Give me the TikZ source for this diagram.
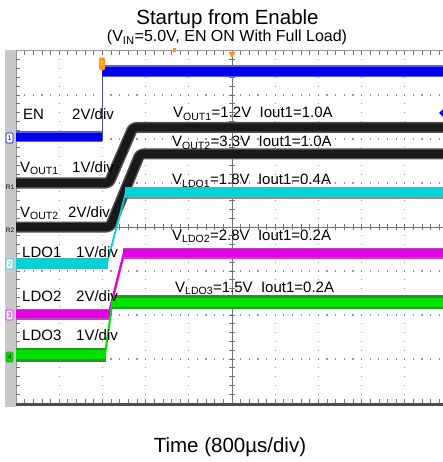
\documentclass[tikz,border=0pt]{standalone}
\usepackage{fontspec}
\setmainfont{Liberation Sans}
\usetikzlibrary{shapes.geometric}
\definecolor{enblue}{RGB}{0,0,235}
\definecolor{enfringe}{RGB}{90,90,240}
\definecolor{blk}{RGB}{25,25,25}
\definecolor{blkfringe}{RGB}{80,80,80}
\definecolor{cyanc}{RGB}{0,212,218}
\definecolor{cyanfringe}{RGB}{60,185,190}
\definecolor{magc}{RGB}{228,0,228}
\definecolor{magfringe}{RGB}{190,70,190}
\definecolor{grnc}{RGB}{0,225,0}
\definecolor{grnfringe}{RGB}{40,150,40}
\definecolor{griddot}{RGB}{150,150,150}
\definecolor{axisc}{RGB}{115,115,115}
\definecolor{barc}{RGB}{200,200,200}
\definecolor{orangec}{RGB}{255,150,20}
\newcommand{\mysub}[1]{\textsubscript{#1}}
\begin{document}
\begin{tikzpicture}[x=1pt,y=-1pt,
  lbl/.style={anchor=base west,inner sep=0pt,font=\fontsize{15}{18}\selectfont},
  ttl/.style={anchor=base,inner sep=0pt,font=\fontsize{20.5}{24}\selectfont},
  subttl/.style={anchor=base,inner sep=0pt,font=\fontsize{16}{19}\selectfont},
  gdotv/.style={griddot,line width=1.2pt,dash pattern=on 1.2pt off 7.6pt,dash phase=0.6pt},
  gdoth/.style={griddot,line width=1.2pt,dash pattern=on 1.2pt off 7.44pt,dash phase=0.6pt},
  axisline/.style={axisc,line width=0.9pt},
  tick/.style={axisc,line width=0.7pt},
  band/.style={line width=#1,line join=round,line cap=butt},
  chmark/.style={inner sep=0.6pt,rounded corners=1pt,line width=0.6pt,font=\fontsize{7}{7}\selectfont,minimum width=7pt,minimum height=10pt}
]
\useasboundingbox (0,0) rectangle (443,462);
\fill[white] (0,0) rectangle (443,462);
% left grey bar
\fill[barc] (5,50) rectangle (16,407);
\begin{scope}
\clip (16,50) rectangle (443,406);
% dotted grid
\foreach \gx in {59.2,102.4,145.6,188.8,275.2,318.4,361.6,404.8}
  \draw[gdotv] (\gx,51) -- (\gx,403);
\foreach \gy in {95,139,183,271,315,359}
  \draw[gdoth] (16,\gy) -- (443,\gy);
% centre axes with ticks
\draw[axisline] (232,51) -- (232,403);
\foreach \k in {1,...,39}
  \draw[tick] (229,{51+8.8*\k}) -- (235,{51+8.8*\k});
\draw[axisline] (16,227) -- (443,227);
\foreach \k in {1,...,50}
  \draw[tick] ({16+8.64*\k},224) -- ({16+8.64*\k},230);
% borders
\draw[griddot,line width=1pt] (16,51) -- (443,51);
\foreach \k in {1,...,50}
  \draw[tick] ({16+8.64*\k},51) -- ({16+8.64*\k},55);
\draw[griddot,line width=1pt] (16,51) -- (16,404);
\foreach \k in {1,...,39}
  \draw[tick] (16,{51+8.8*\k}) -- (20,{51+8.8*\k});
\foreach \k in {1,...,50}
  \draw[tick] ({16+8.64*\k},399) -- ({16+8.64*\k},403);
\draw[black!70,line width=2.4pt] (16,404.5) -- (443,404.5);
% thin line under LDO1
\draw[black!45,line width=0.7pt] (124,198) -- (443,198);
% EN trace
\draw[enfringe,band=11pt] (16,137) -- (102,137);
\draw[enblue,band=8pt] (16,137) -- (102,137);
\draw[blue!40!gray,line width=0.8pt] (102,141) -- (102,67);
\draw[enfringe,band=12pt] (102,71.5) -- (443,71.5);
\draw[enblue,band=9pt] (102,71.5) -- (443,71.5);
% VOUT1
\draw[blkfringe,band=11pt,rounded corners=3pt] (16,183) -- (109,183) -- (133,127.5) -- (443,127.5);
\draw[blk,band=8pt,rounded corners=3pt] (16,183) -- (109,183) -- (133,127.5) -- (443,127.5);
% VOUT2
\draw[blkfringe,band=11pt,rounded corners=3pt] (16,227) -- (110,227) -- (140,154) -- (443,154);
\draw[blk,band=8pt,rounded corners=3pt] (16,227) -- (110,227) -- (140,154) -- (443,154);
% LDO1
\draw[cyanc,line width=1.8pt] (107,263) -- (126,192);
\draw[cyanfringe,band=11pt] (16,263) -- (108,263);
\draw[cyanc,band=8pt] (16,263) -- (108,263);
\draw[cyanfringe,band=11pt] (125,192) -- (443,192);
\draw[cyanc,band=8pt] (125,192) -- (443,192);
% LDO2
\draw[magc,line width=2.4pt] (109,313) -- (124,253);
\draw[magfringe,band=11pt] (16,314) -- (110,314);
\draw[magc,band=8pt] (16,314) -- (110,314);
\draw[magfringe,band=11pt] (123,253) -- (443,253);
\draw[magc,band=8pt] (123,253) -- (443,253);
% LDO3
\draw[grnc,line width=2pt] (105,354) -- (112.5,302);
\draw[grnfringe,band=14pt] (16,354.5) -- (105.5,354.5);
\draw[grnc,band=9pt] (16,354.5) -- (105.5,354.5);
\draw[grnfringe,band=14pt] (112,302) -- (443,302);
\draw[grnc,band=9pt] (112,302) -- (443,302);
\end{scope}
% markers
\fill[orangec] (172.5,48.5) rectangle (175.5,52.5);
\fill[orangec] (228.5,52) -- (235.5,52) -- (232,58) -- cycle;
\node[fill=orangec,rounded corners=1.5pt,minimum width=6pt,minimum height=13pt,inner sep=0pt,text=yellow!60,font=\fontsize{7}{7}\selectfont] (trig) at (102,64) {T};
\node[diamond,fill=enblue,minimum size=10pt,inner sep=0pt] (enright) at (444,113) {};
% channel markers
\node[chmark,draw=enblue,fill=white,text=enblue] (m1) at (9.5,138) {1};
\node[chmark,inner sep=0pt,text=black,font=\fontsize{6.5}{6.5}\selectfont] (mr1) at (10,187) {R1};
\node[chmark,inner sep=0pt,text=black,font=\fontsize{6.5}{6.5}\selectfont] (mr2) at (10,230) {R2};
\node[chmark,draw=cyanc,fill=white,text=cyanc] (m2) at (9.5,264) {2};
\node[chmark,draw=magc,fill=white,text=magc] (m3) at (9.5,315) {3};
\node[chmark,draw=grnfringe,fill=grnc,text=black] (m4) at (9.5,357) {4};
% left labels
\node[lbl] (en) at (23,120) {EN};
\node[lbl] (endiv) at (72,120) {2V/div};
\node[lbl] (v1) at (20,172) {V\mysub{OUT1}};
\node[lbl] (v1div) at (72,172) {1V/div};
\node[lbl] (v2) at (20,217) {V\mysub{OUT2}};
\node[lbl] (v2div) at (68,217) {2V/div};
\node[lbl] (l1) at (22,257) {LDO1};
\node[lbl] (l1div) at (76,257) {1V/div};
\node[lbl] (l2) at (22,301) {LDO2};
\node[lbl] (l2div) at (76,301) {2V/div};
\node[lbl] (l3) at (22,340) {LDO3};
\node[lbl] (l3div) at (76,340) {1V/div};
% right labels
\node[lbl] (r1) at (173,118) {V\mysub{OUT1}=1.2V\ \ Iout1=1.0A};
\node[lbl] (r2) at (172,147) {V\mysub{OUT2}=3.3V\ \ Iout1=1.0A};
\node[lbl] (r3) at (172,185) {V\mysub{LDO1}=1.8V\ \ Iout1=0.4A};
\node[lbl] (r4) at (172,240) {V\mysub{LDO2}=2.8V\ \ Iout1=0.2A};
\node[lbl] (r5) at (175,292) {V\mysub{LDO3}=1.5V\ \ Iout1=0.2A};
% titles
\node[ttl] (title) at (227.5,25) {Startup from Enable};
\node[subttl] (subtitle) at (227,42) {(V\mysub{IN}=5.0V, EN ON With Full Load)};
\node[ttl] (time) at (230,452) {Time (800µs/div)};
\end{tikzpicture}
\end{document}
